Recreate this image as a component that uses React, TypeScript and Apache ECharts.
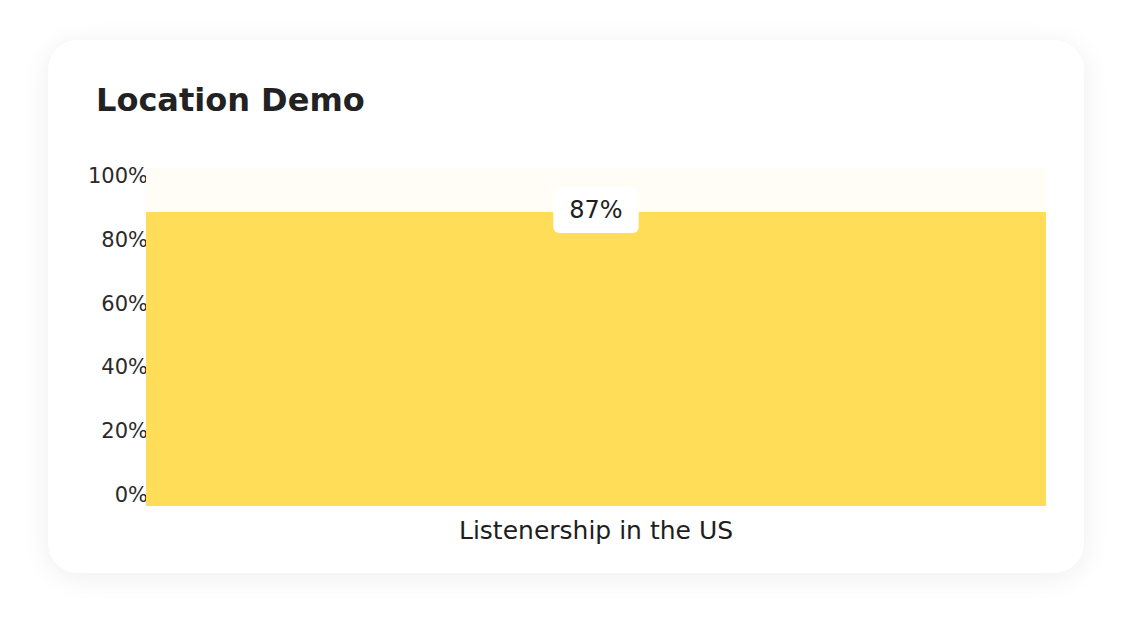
import React, { useEffect, useRef } from "react";
import * as echarts from "echarts";

const TITLE = "Location Demo";
const categories = ["Listenership in the US"];
const values = [87];
const yTicks = [0, 20, 40, 60, 80, 100];

const FONT = "'DejaVu Sans', sans-serif";

export default function App() {
  const ref = useRef<HTMLDivElement>(null);
  useEffect(() => {
    if (!ref.current) return;
    const chart = echarts.init(ref.current, undefined, { renderer: "svg" });
    chart.setOption({
      animation: false,
      textStyle: { fontFamily: FONT },
      title: {
        text: TITLE,
        left: 96,
        top: 84,
        padding: 0,
        textStyle: { fontFamily: FONT, fontSize: 32, fontWeight: "bold", color: "#222222" },
      },
      grid: [
        { left: 146, right: 86, top: 168, bottom: 124, containLabel: false },
        { left: 146, right: 86, top: 176, bottom: 135, containLabel: false },
      ],
      xAxis: [
        {
          type: "category",
          gridIndex: 0,
          data: categories,
          axisLine: { show: false },
          axisTick: { show: false },
          axisLabel: { fontSize: 25, color: "#1e1e1e", margin: 12, fontFamily: FONT },
        },
        { type: "value", gridIndex: 1, show: false, min: 0, max: 1 },
      ],
      yAxis: [
        { type: "value", gridIndex: 0, min: 0, max: 100, show: false, splitLine: { show: false } },
        {
          type: "value",
          gridIndex: 1,
          min: yTicks[0],
          max: yTicks[yTicks.length - 1],
          interval: yTicks[1] - yTicks[0],
          axisLine: { show: false },
          axisTick: { show: false },
          splitLine: { show: false },
          axisLabel: {
            fontSize: 21,
            color: "#2a2a2a",
            margin: -2,
            fontFamily: FONT,
            formatter: (v: number) => v + "%",
          },
        },
      ],
      series: [
        {
          type: "bar",
          xAxisIndex: 0,
          yAxisIndex: 0,
          data: values,
          barWidth: "100%",
          itemStyle: { color: "#FFDD59" },
          showBackground: true,
          backgroundStyle: { color: "#FFFDF6" },
          label: {
            show: true,
            position: "top",
            distance: -21,
            formatter: (p: any) => p.value + "%",
            fontSize: 24,
            fontFamily: FONT,
            color: "#1e1e1e",
            backgroundColor: "#ffffff",
            borderRadius: 6,
            padding: [9, 16],
            lineHeight: 28,
          },
        },
      ],
    });
    return () => chart.dispose();
  }, []);

  return (
    <div style={{ position: "fixed", left: 0, top: 0, width: 1132, height: 630, background: "#ffffff" }}>
      <div
        style={{
          position: "absolute",
          left: 48,
          top: 40,
          width: 1036,
          height: 533,
          borderRadius: 30,
          background: "#ffffff",
          boxShadow: "0 4px 28px rgba(0,0,0,0.07)",
        }}
      />
      <div ref={ref} style={{ position: "absolute", left: 0, top: 0, width: 1132, height: 630 }} />
    </div>
  );
}
